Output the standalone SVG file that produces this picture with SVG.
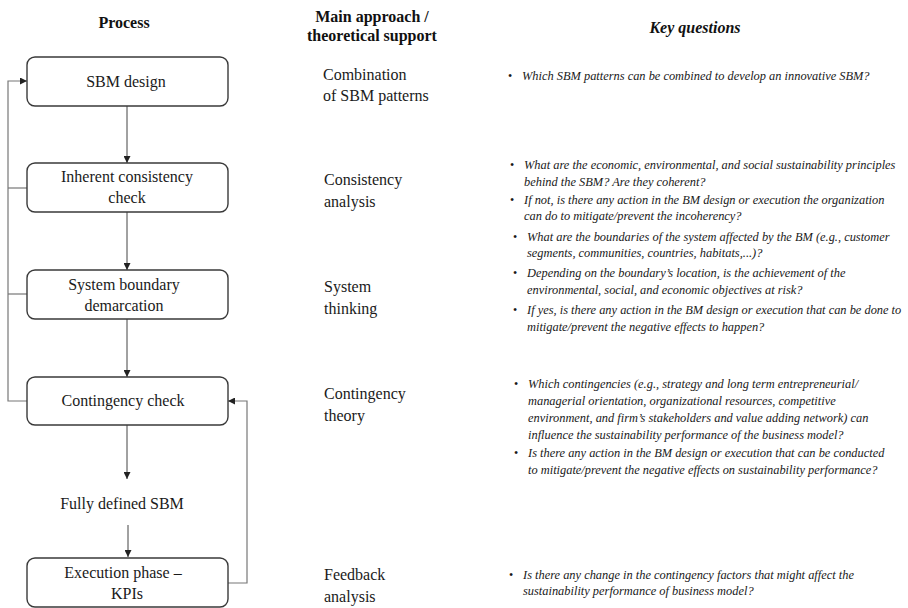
<svg xmlns="http://www.w3.org/2000/svg" width="908" height="608" viewBox="0 0 908 608">
<defs>
<style>
.hdr{font-family:"Liberation Serif","Times New Roman",serif;font-size:16px;font-weight:bold;fill:#111}
.hdri{font-family:"Liberation Serif","Times New Roman",serif;font-size:16px;font-weight:bold;font-style:italic;fill:#111}
.box{fill:#fff;stroke:#3a3a3a;stroke-width:1.4}
.t{font-family:"Liberation Serif","Times New Roman",serif;font-size:16px;fill:#1a1a1a}
.m{font-family:"Liberation Serif","Times New Roman",serif;font-size:16px;fill:#1a1a1a}
.q{font-family:"Liberation Serif","Times New Roman",serif;font-size:12.4px;font-style:italic;fill:#1a1a1a}
.b{font-family:"Liberation Serif","Times New Roman",serif;font-size:12px;fill:#1a1a1a}
.c{fill:none;stroke:#444;stroke-width:1}
.fb{fill:none;stroke:#777;stroke-width:1.2}
</style>
<marker id="ah" viewBox="0 0 8 8" refX="8" refY="4" markerWidth="7" markerHeight="7" markerUnits="userSpaceOnUse" orient="auto">
<path d="M0,0 L8,4 L0,8 z" fill="#222"/>
</marker>
</defs>
<rect width="908" height="608" fill="#fff"/>

<g id="headers">
<text class="hdr" x="124" y="28" text-anchor="middle">Process</text>
<text class="hdr" x="372" y="22" text-anchor="middle">Main approach /</text>
<text class="hdr" x="372" y="41" text-anchor="middle">theoretical support</text>
<text class="hdri" x="695" y="33" text-anchor="middle">Key questions</text>
</g>

<g id="connectors">
<line class="c" x1="127" y1="106" x2="127" y2="163" marker-end="url(#ah)"/>
<line class="c" x1="127" y1="212" x2="127" y2="270" marker-end="url(#ah)"/>
<line class="c" x1="127" y1="319" x2="127" y2="377" marker-end="url(#ah)"/>
<line class="c" x1="127" y1="425" x2="127" y2="479" marker-end="url(#ah)"/>
<line class="c" x1="128" y1="525" x2="128" y2="557" marker-end="url(#ah)"/>
<polyline class="fb" points="27,401 8,401 8,81 27,81" marker-end="url(#ah)"/>
<line class="fb" x1="8" y1="188" x2="27" y2="188"/>
<line class="fb" x1="8" y1="294" x2="27" y2="294"/>
<polyline class="fb" points="228,583 247,583 247,401 228,401" marker-end="url(#ah)"/>
</g>

<g id="sbm-design">
<rect class="box" x="27" y="57" width="201" height="49" rx="8"/>
<text class="t" x="126" y="87" text-anchor="middle">SBM design</text>
</g>
<g id="inherent-consistency-check">
<rect class="box" x="27" y="163" width="201" height="49" rx="8"/>
<text class="t" x="127" y="182" text-anchor="middle">Inherent consistency</text>
<text class="t" x="127" y="203" text-anchor="middle">check</text>
</g>
<g id="system-boundary-demarcation">
<rect class="box" x="27" y="270" width="201" height="49" rx="8"/>
<text class="t" x="124" y="290" text-anchor="middle">System boundary</text>
<text class="t" x="124" y="311" text-anchor="middle">demarcation</text>
</g>
<g id="contingency-check">
<rect class="box" x="27" y="377" width="201" height="48" rx="8"/>
<text class="t" x="123" y="406" text-anchor="middle">Contingency check</text>
</g>
<g id="fully-defined-sbm">
<text class="t" x="122" y="509" text-anchor="middle">Fully defined SBM</text>
</g>
<g id="execution-phase">
<rect class="box" x="27" y="558" width="201" height="49" rx="8"/>
<text class="t" x="123" y="578" text-anchor="middle">Execution phase –</text>
<text class="t" x="127" y="599" text-anchor="middle">KPIs</text>
</g>

<g id="approaches">
<text class="m" x="323" y="80">Combination</text>
<text class="m" x="323" y="101">of SBM patterns</text>
<text class="m" x="324" y="185">Consistency</text>
<text class="m" x="324" y="207">analysis</text>
<text class="m" x="324" y="292">System</text>
<text class="m" x="324" y="314">thinking</text>
<text class="m" x="324" y="399">Contingency</text>
<text class="m" x="324" y="421">theory</text>
<text class="m" x="324" y="580">Feedback</text>
<text class="m" x="324" y="602">analysis</text>
</g>

<g id="questions">
<text class="b" x="508" y="80">•</text>
<text class="q" x="522" y="80">Which SBM patterns can be combined to develop an innovative SBM?</text>

<text class="b" x="510" y="169">•</text>
<text class="q" x="524" y="169">What are the economic, environmental, and social sustainability principles</text>
<text class="q" x="524" y="186">behind the SBM? Are they coherent?</text>
<text class="b" x="510" y="204">•</text>
<text class="q" x="524" y="204">If not, is there any action in the BM design or execution the organization</text>
<text class="q" x="524" y="220">can do to mitigate/prevent the incoherency?</text>

<text class="b" x="513" y="241">•</text>
<text class="q" x="527" y="241">What are the boundaries of the system affected by the BM (e.g., customer</text>
<text class="q" x="527" y="257">segments, communities, countries, habitats,...)?</text>
<text class="b" x="513" y="277">•</text>
<text class="q" x="527" y="277">Depending on the boundary’s location, is the achievement of the</text>
<text class="q" x="527" y="294">environmental, social, and economic objectives at risk?</text>
<text class="b" x="513" y="314">•</text>
<text class="q" x="527" y="314">If yes, is there any action in the BM design or execution that can be done to</text>
<text class="q" x="527" y="331">mitigate/prevent the negative effects to happen?</text>

<text class="b" x="514" y="388">•</text>
<text class="q" x="528" y="388">Which contingencies (e.g., strategy and long term entrepreneurial/</text>
<text class="q" x="528" y="405">managerial orientation, organizational resources, competitive</text>
<text class="q" x="528" y="422">environment, and firm’s stakeholders and value adding network) can</text>
<text class="q" x="528" y="439">influence the sustainability performance of the business model?</text>
<text class="b" x="514" y="457">•</text>
<text class="q" x="528" y="457">Is there any action in the BM design or execution  that can be conducted</text>
<text class="q" x="528" y="474">to mitigate/prevent the negative effects on sustainability performance?</text>

<text class="b" x="509" y="579">•</text>
<text class="q" x="523" y="579">Is there any change in the contingency factors that might affect the</text>
<text class="q" x="523" y="595">sustainability performance of business model?</text>
</g>
</svg>
